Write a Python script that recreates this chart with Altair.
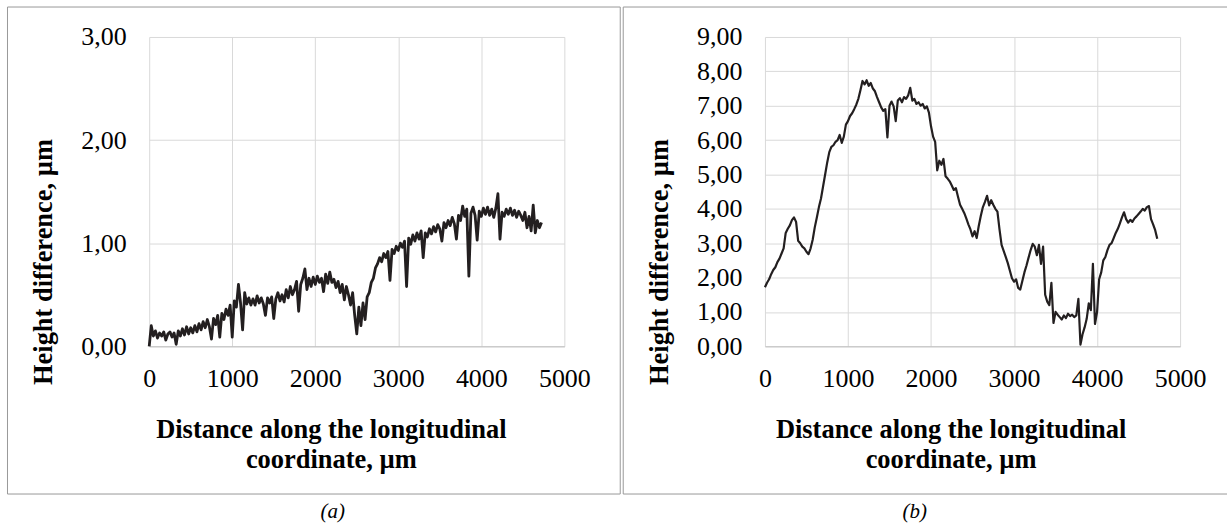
import altair as alt
import pandas as pd

# sampling positions along the longitudinal coordinate, µm
dist = list(range(0, 4750, 25))

# panel (a) height difference, µm
height_a = [
    0.00, 0.20, 0.10, 0.15, 0.08, 0.13, 0.10, 0.14, 0.06, 0.12,
    0.14, 0.09, 0.13, 0.02, 0.15, 0.10, 0.17, 0.11, 0.19, 0.12,
    0.18, 0.13, 0.20, 0.14, 0.22, 0.16, 0.24, 0.18, 0.26, 0.19,
    0.07, 0.27, 0.21, 0.30, 0.09, 0.32, 0.26, 0.36, 0.30, 0.40,
    0.09, 0.44, 0.38, 0.60, 0.42, 0.16, 0.52, 0.41, 0.47, 0.40,
    0.46, 0.40, 0.49, 0.42, 0.47, 0.41, 0.30, 0.47, 0.42, 0.48,
    0.27, 0.46, 0.52, 0.44, 0.50, 0.43, 0.55, 0.47, 0.58, 0.50,
    0.55, 0.63, 0.34, 0.60, 0.66, 0.75, 0.55, 0.66, 0.58, 0.67,
    0.60, 0.68, 0.62, 0.66, 0.53, 0.70, 0.61, 0.72, 0.62, 0.65,
    0.57, 0.63, 0.52, 0.60, 0.45, 0.58, 0.50, 0.40, 0.52, 0.30,
    0.12, 0.38, 0.20, 0.42, 0.26, 0.48, 0.52, 0.62, 0.66, 0.76,
    0.80, 0.86, 0.82, 0.90, 0.86, 0.92, 0.64, 0.94, 0.90, 0.97,
    0.93, 1.00, 0.96, 1.02, 0.58, 1.05, 0.99, 1.08, 1.02, 1.10,
    1.04, 1.12, 0.86, 1.10, 1.06, 1.14, 1.09, 1.16, 1.11, 1.18,
    1.14, 1.02, 1.20, 1.15, 1.22, 1.17, 1.25, 1.19, 1.04, 1.27,
    1.22, 1.36, 1.26, 1.33, 0.68, 1.29, 1.35, 1.27, 1.03, 1.31,
    1.26, 1.34, 1.28, 1.35, 1.27, 1.33, 1.25, 1.34, 1.48, 1.04,
    1.30, 1.26, 1.33, 1.28, 1.34, 1.27, 1.32, 1.25, 1.31, 1.27,
    1.22, 1.30, 1.15, 1.26, 1.12, 1.37, 1.10, 1.22, 1.15, 1.20,
]

# panel (b) height difference, µm
height_b = [
    1.72, 1.85, 1.95, 2.10, 2.22, 2.30, 2.45, 2.55, 2.70, 2.85,
    3.30, 3.42, 3.52, 3.67, 3.75, 3.62, 3.07, 3.00, 2.90, 2.85,
    2.75, 2.68, 2.85, 3.10, 3.46, 3.75, 4.05, 4.30, 4.65, 5.00,
    5.35, 5.65, 5.80, 5.85, 5.95, 6.00, 6.15, 5.92, 6.10, 6.45,
    6.55, 6.70, 6.78, 6.90, 7.03, 7.20, 7.45, 7.72, 7.62, 7.74,
    7.58, 7.66, 7.50, 7.42, 7.25, 7.10, 6.95, 6.85, 6.90, 6.08,
    7.00, 7.12, 6.98, 6.55, 7.15, 7.22, 7.10, 7.25, 7.20, 7.30,
    7.52, 7.15, 7.20, 7.05, 7.10, 7.00, 7.05, 6.92, 6.98, 6.80,
    6.40, 6.10, 5.95, 5.12, 5.40, 5.28, 5.45, 4.95, 4.88, 4.80,
    4.68, 4.55, 4.60, 4.35, 4.12, 4.00, 3.88, 3.72, 3.55, 3.40,
    3.20, 3.35, 3.15, 3.50, 3.80, 4.05, 4.20, 4.38, 4.10, 4.25,
    4.12, 4.00, 3.92, 3.40, 2.95, 2.78, 2.60, 2.42, 2.20, 1.98,
    1.88, 1.95, 1.70, 1.65, 1.90, 2.15, 2.35, 2.58, 2.80, 2.98,
    2.90, 2.65, 2.95, 2.40, 2.90, 1.50, 1.30, 1.20, 1.85, 0.68,
    1.00, 0.92, 0.85, 0.78, 0.90, 0.82, 0.95, 0.88, 0.92, 0.85,
    0.90, 1.38, 0.05, 0.35, 0.55, 0.80, 1.25, 1.05, 2.40, 0.65,
    1.00, 1.95, 2.15, 2.50, 2.60, 2.80, 2.95, 3.00, 3.15, 3.30,
    3.42, 3.58, 3.75, 3.90, 3.70, 3.60, 3.68, 3.62, 3.72, 3.78,
    3.85, 3.92, 4.00, 3.95, 4.05, 4.08, 3.70, 3.55, 3.38, 3.13,
]

x_ticks = [0, 1000, 2000, 3000, 4000, 5000]
x_title = ["Distance along the longitudinal", "coordinate, µm"]
y_title = "Height difference, µm"

FONT = "Liberation Serif"
LINE_COLOR = "#231f20"
GRID = "#d9d9d9"
BOX = "#999999"

dummy = pd.DataFrame({"k": [0]})


def profile(heights, ymax, xtitle_x, sw):
    df = pd.DataFrame({"d": dist, "h": heights})
    return alt.Chart(df).mark_line(
        color=LINE_COLOR, strokeWidth=sw, strokeJoin="round"
    ).encode(
        x=alt.X(
            "d:Q",
            scale=alt.Scale(domain=[0, 5000], nice=False),
            axis=alt.Axis(
                values=x_ticks, format="d", grid=True, gridColor=GRID, gridWidth=1,
                domain=True, domainColor="#bfbfbf", domainWidth=1,
                ticks=False, tickSize=0,
                labelFont=FONT, labelFontSize=26, labelColor="black",
                labelPadding=19, labelFlush=False, labelOverlap=False,
                title=x_title, titleFont=FONT, titleFontSize=26.5,
                titleFontWeight="bold", titleColor="black",
                titleX=xtitle_x, titleY=70, titleBaseline="top",
                titleAlign="center", titleLineHeight=30,
            ),
        ),
        y=alt.Y(
            "h:Q",
            scale=alt.Scale(domain=[0, ymax], nice=False),
            axis=alt.Axis(
                values=list(range(0, ymax + 1)),
                labelExpr="replace(format(datum.value, '.2f'), '.', ',')",
                grid=True, gridColor=GRID, gridWidth=1,
                domain=False, ticks=False, tickSize=0,
                labelFont=FONT, labelFontSize=26, labelColor="black",
                labelPadding=23, labelOverlap=False,
                title=y_title, titleFont=FONT, titleFontSize=26.5,
                titleFontWeight="bold", titleColor="black",
                titleX=-106, titleY=225, titleAngle=270,
                titleBaseline="middle", titleAlign="center",
            ),
        ),
    )


def caption(text, cx):
    return alt.Chart(dummy).mark_text(
        text=text, font=FONT, fontStyle="italic", fontSize=21,
        color="black", align="center", baseline="middle",
    ).encode(x=alt.value(cx), y=alt.value(476))


box_a = alt.Chart(dummy).mark_rect(
    fill="white", fillOpacity=0, stroke=BOX, strokeWidth=1
).encode(x=alt.value(-142), x2=alt.value(472), y=alt.value(-30), y2=alt.value(458))

rule_style = dict(color=BOX, strokeWidth=1)
b_top = alt.Chart(dummy).mark_rule(**rule_style).encode(
    x=alt.value(-142), x2=alt.value(463), y=alt.value(-30))
b_bot = alt.Chart(dummy).mark_rule(**rule_style).encode(
    x=alt.value(-142), x2=alt.value(463), y=alt.value(458))
b_left = alt.Chart(dummy).mark_rule(**rule_style).encode(
    x=alt.value(-142), y=alt.value(-30), y2=alt.value(458))

panel_a = alt.layer(box_a, profile(height_a, 3, 182, 2.8), caption("(a)", 184)).properties(
    width=416, height=310)
panel_b = alt.layer(b_top, b_bot, b_left, profile(height_b, 9, 186, 2.2), caption("(b)", 150)).properties(
    width=416, height=310)

chart = alt.hconcat(panel_a, panel_b, spacing=1).properties(
    padding={"left": 6.5, "top": 5.5, "right": 0, "bottom": 0}
).configure_view(strokeWidth=0)

chart.save("out.html", embed_options={"renderer": "svg", "actions": False})
